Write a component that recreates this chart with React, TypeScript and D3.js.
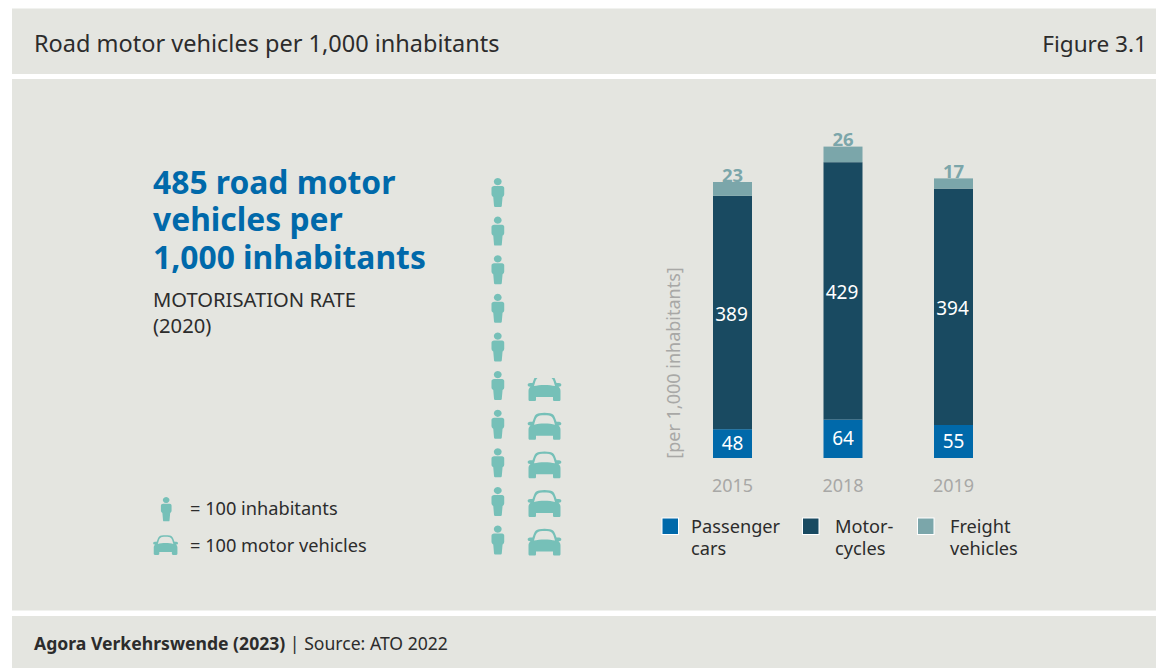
import React from "react";
import * as d3 from "d3";

const years = ["2015", "2018", "2019"];
const passengerCars = [48, 64, 55];
const motorcycles = [389, 429, 394];
const freightVehicles = [23, 26, 17];
const seriesNames = ["Passenger cars", "Motorcycles", "Freight vehicles"];
const legendLines = [["Passenger", "cars"], ["Motor-", "cycles"], ["Freight", "vehicles"]];
const inhabitantsIcons = 10;
const vehicleIcons = 4.85;

const FONT = "'Noto Sans', sans-serif";
const BG = "#e4e5e0";
const BLUE = "#0069aa";
const NAVY = "#194a61";
const GREY_TEAL = "#7ba6aa";
const TEAL = "#76c0b8";
const AXIS = "#a8a8a6";
const INK = "#2c2c2c";
const colors = [BLUE, NAVY, GREY_TEAL];

const x = d3.scalePoint<string>().domain(years).range([732.5, 953.5]);
const y = d3.scaleLinear().domain([0, 500]).range([458, 158]);
const stackData = years.map((yr, i) => ({ yr, a: passengerCars[i], b: motorcycles[i], c: freightVehicles[i] }));
const stacks = d3.stack<any>().keys(["a", "b", "c"])(stackData);
const rowY = d3.scaleLinear().domain([0, 9]).range([178, 525.5]);

const personPath =
  "M6.9 0a4 3.7 0 1 1-.01 0Z M2.6 8.2h8.7c1.3 0 2.2 1 2.2 2.3v6.2c0 .8-.4 1.6-1 2.2l-.7.5-.8 9.2c-.1.7-.5 1-1.1 1H4.2c-.6 0-1-.3-1.1-1l-.8-9.2-.7-.5c-.7-.6-1.1-1.4-1.1-2.2v-6.2c0-1.3 1.1-2.3 2.6-2.3Z";
const carPath =
  "M5 9 L6.500 5 C7.500 2.500 9 1 11.500 .7 C15 0 19 0 22.500 .7 C25 1 26.500 2.500 27.500 5 L29 9 H31.500 C33 9 34 10 33.800 11 C33.700 12 33 12.700 31.500 12.800 L31 12.800 C32.500 14 33 15.500 33 17 V25.500 C33 26.500 32.300 27 31.500 27 H27 C26 27 25.500 26.500 25.500 25.500 V23 H8.500 V25.500 C8.500 26.500 8 27 7 27 H2.500 C1.700 27 1 26.500 1 25.500 V17 C1 15.500 1.500 14 3 12.800 L2.500 12.800 C1 12.700 .3 12 .2 11 C0 10 1 9 2.500 9 Z M6.500 12 C12 10.500 22 10.500 27.500 12 L26 7 C25 4.500 23.500 3 21.500 2.800 C18.500 2.400 15.500 2.400 12.500 2.800 C10.500 3 9 4.500 8 7 Z";

function Person({ px, py, k = 0.98 }: { px: number; py: number; k?: number }) {
  return <path d={personPath} transform={`translate(${px},${py}) scale(${k})`} fill={TEAL} fillRule="evenodd" />;
}
function Car({ px, py, k = 1, fraction = 1, id }: { px: number; py: number; k?: number; fraction?: number; id?: string }) {
  const h = 27;
  return (
    <g transform={`translate(${px},${py}) scale(${k})`}>
      {fraction < 1 && (
        <clipPath id={id}>
          <rect x={-2} y={h * (1 - fraction)} width={40} height={h * fraction + 1} />
        </clipPath>
      )}
      <path d={carPath} fill={TEAL} fillRule="evenodd" clipPath={fraction < 1 ? `url(#${id})` : undefined} />
    </g>
  );
}

export default function App() {
  const carRows = d3.range(Math.ceil(vehicleIcons));
  return (
    <svg width={1156} height={668} style={{ position: "absolute", left: 0, top: 0, fontFamily: FONT }}>
      <rect width={1156} height={668} fill="#fff" />
      <rect x={12} y={8.500} width={1144} height={65.500} fill={BG} />
      <rect x={12} y={79} width={1144} height={531.500} fill={BG} />
      <rect x={12} y={616} width={1144} height={52} fill={BG} />

      <text x={34} y={52} fontSize={23.500} fill={INK}>Road motor vehicles per 1,000 inhabitants</text>
      <text x={1147} y={52} fontSize={22.600} fill={INK} textAnchor="end">Figure 3.1</text>

      <g fill={BLUE} fontSize={31.800} fontWeight={700}>
        <text x={153} y={193.500}>485 road motor</text>
        <text x={153} y={231}>vehicles per</text>
        <text x={153} y={269}>1,000 inhabitants</text>
      </g>
      <g fill={INK} fontSize={20.200}>
        <text x={153} y={307}>MOTORISATION RATE</text>
        <text x={153} y={333}>(2020)</text>
      </g>

      <Person px={160.500} py={497} k={0.82} />
      <Car px={153} py={535} k={0.74} />
      <g fill={INK} fontSize={18.200}>
        <text x={190} y={515}>= 100 inhabitants</text>
        <text x={190} y={552}>= 100 motor vehicles</text>
      </g>

      {d3.range(inhabitantsIcons).map((i) => <Person key={i} px={491} py={rowY(i)} />)}
      {carRows.map((i) => {
        const row = 9 - i;
        const frac = Math.min(1, vehicleIcons - i);
        return <Car key={i} px={527.500} py={rowY(row) + 3} fraction={frac} id={`car-clip-${i}`} />;
      })}

      <text transform="translate(679.500,363) rotate(-90)" textAnchor="middle" fontSize={18} fill={AXIS}>[per 1,000 inhabitants]</text>

      {stacks.map((s, si) => (
        <g key={si} fill={colors[si]}>
          {s.map((d, i) => (
            <rect key={i} x={x(years[i])! - 19.500} y={y(d[1])} width={39} height={y(d[0]) - y(d[1])} />
          ))}
        </g>
      ))}
      {stackData.map((d, i) => (
        <g key={d.yr} textAnchor="middle">
          <text x={x(d.yr)} y={y(d.a / 2) + 6.500} fontSize={19} fill="#fff">{d.a}</text>
          <text x={x(d.yr)! - 1} y={y(d.a + d.b / 2) + 8} fontSize={19} fill="#fff">{d.b}</text>
          <text x={x(d.yr)} y={y(d.a + d.b + d.c) - 0.500} fontSize={18.500} fontWeight={700} fill={GREY_TEAL}>{d.c}</text>
          <text x={x(d.yr)} y={492} fontSize={18} fill={AXIS}>{d.yr}</text>
        </g>
      ))}

      {seriesNames.map((name, i) => {
        const sx = [662, 802.500, 917.500][i];
        const tx = [691, 835, 950][i];
        return (
          <g key={name}>
            <rect x={sx} y={518} width={16.500} height={16.500} fill={colors[i]} stroke="#fff" strokeWidth={1} />
            <g fontSize={18.200} fill={INK}>
              <text x={tx} y={533}>{legendLines[i][0]}</text>
              <text x={tx} y={555}>{legendLines[i][1]}</text>
            </g>
          </g>
        );
      })}

      <text x={34} y={650} fontSize={17.600} fill={INK}>
        <tspan fontWeight={700}>Agora Verkehrswende (2023)</tspan>
        <tspan> | Source: ATO 2022</tspan>
      </text>
    </svg>
  );
}
